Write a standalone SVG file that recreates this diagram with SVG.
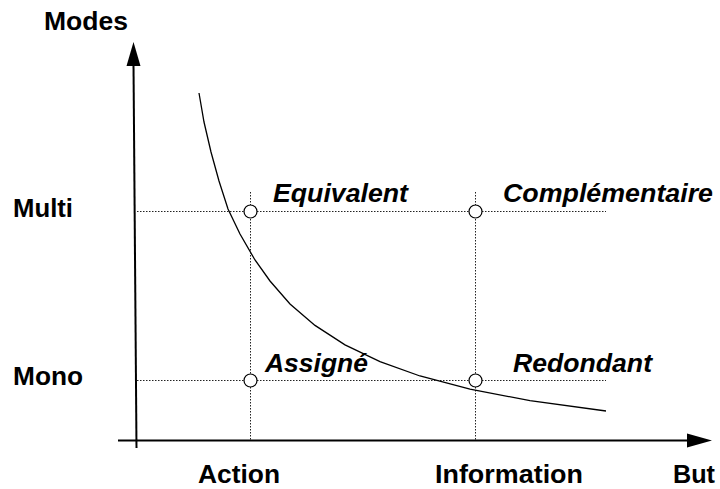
<svg xmlns="http://www.w3.org/2000/svg" width="720" height="489" viewBox="0 0 720 489">
<style>
.lbl{font-family:"Liberation Sans",Arial,sans-serif;font-weight:bold;font-size:25px;fill:#000}
.it{font-style:italic}
.dot{stroke:#222;stroke-width:1;stroke-dasharray:1.5,1.5;fill:none}
.axis{stroke:#000;stroke-width:2;fill:none}
.pt{fill:#fff;stroke:#000;stroke-width:1.2}
</style>
<rect width="720" height="489" fill="#fff"/>
<g id="grid">
<line class="dot" x1="137" y1="211.5" x2="606" y2="211.5"/>
<line class="dot" x1="137" y1="380.5" x2="606" y2="380.5"/>
<line class="dot" x1="250.5" y1="192" x2="250.5" y2="440"/>
<line class="dot" x1="475.5" y1="192" x2="475.5" y2="440"/>
</g>
<g id="connectors">
<line class="axis" x1="136.5" y1="448" x2="133.5" y2="64"/>
<polygon points="133.5,42 126.5,66 140.5,66" fill="#000"/>
<line class="axis" x1="118" y1="440.5" x2="690" y2="440.5"/>
<polygon points="712,440.5 687,433.5 687,447.5" fill="#000"/>
<path id="curve" d="M199,93 L204,122 L211,152 L219,181 L228,209 L240,234 L255,260 L270,281 L290,304 L315,325.4 L345,344.9 L380,361.7 L420,376 L470,389.2 L530,400.6 L606,411" fill="none" stroke="#000" stroke-width="1.3"/>
</g>
<g id="node-equivalent"><circle class="pt" cx="250.5" cy="211.5" r="6.5"/><text class="lbl it" x="273" y="202" textLength="135" lengthAdjust="spacingAndGlyphs">Equivalent</text></g>
<g id="node-complementaire"><circle class="pt" cx="475.5" cy="211.5" r="6.5"/><text class="lbl it" x="503" y="202" textLength="210" lengthAdjust="spacingAndGlyphs">Complémentaire</text></g>
<g id="node-assigne"><circle class="pt" cx="250.5" cy="380.5" r="6.5"/><text class="lbl it" x="265" y="372" textLength="103" lengthAdjust="spacingAndGlyphs">Assigné</text></g>
<g id="node-redondant"><circle class="pt" cx="475.5" cy="380.5" r="6.5"/><text class="lbl it" x="513" y="372" textLength="139" lengthAdjust="spacingAndGlyphs">Redondant</text></g>
<g id="labels">
<text class="lbl" x="44" y="30" textLength="84" lengthAdjust="spacingAndGlyphs">Modes</text>
<text class="lbl" x="13" y="217" textLength="60" lengthAdjust="spacingAndGlyphs">Multi</text>
<text class="lbl" x="13" y="385" textLength="70" lengthAdjust="spacingAndGlyphs">Mono</text>
<text class="lbl" x="198" y="483" textLength="82" lengthAdjust="spacingAndGlyphs">Action</text>
<text class="lbl" x="435" y="483" textLength="148" lengthAdjust="spacingAndGlyphs">Information</text>
<text class="lbl" x="673" y="483" textLength="42" lengthAdjust="spacingAndGlyphs">But</text>
</g>
</svg>
